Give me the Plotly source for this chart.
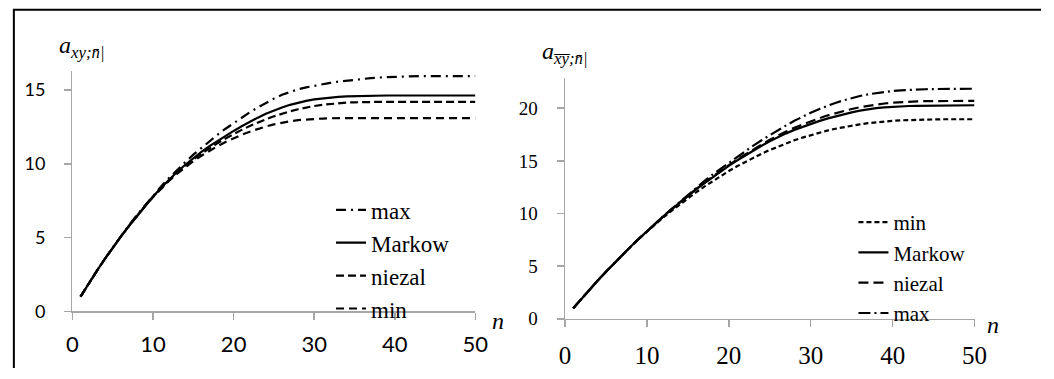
import plotly.graph_objects as go

n = list(range(1, 51))

# left panel  a_{xy;n|}
max_L = [1.00, 1.88, 2.73, 3.55, 4.34, 5.10, 5.83, 6.53, 7.20, 7.85,
         8.47, 9.05, 9.60, 10.12, 10.62, 11.09, 11.54, 11.97, 12.38, 12.77,
         13.14, 13.49, 13.82, 14.13, 14.42, 14.68, 14.89, 15.05, 15.18, 15.30,
         15.40, 15.49, 15.57, 15.64, 15.70, 15.76, 15.81, 15.85, 15.88, 15.91,
         15.93, 15.94, 15.95, 15.95, 15.95, 15.95, 15.95, 15.95, 15.95, 15.95]
markow_L = [1.00, 1.88, 2.73, 3.54, 4.32, 5.07, 5.79, 6.48, 7.14, 7.78,
            8.38, 8.94, 9.46, 9.94, 10.39, 10.81, 11.20, 11.56, 11.90, 12.23,
            12.55, 12.85, 13.13, 13.39, 13.62, 13.82, 14.00, 14.15, 14.27, 14.37,
            14.44, 14.50, 14.54, 14.57, 14.59, 14.61, 14.62, 14.63, 14.63, 14.63,
            14.63, 14.63, 14.63, 14.63, 14.63, 14.63, 14.63, 14.63, 14.63, 14.63]
niezal_L = [1.00, 1.88, 2.73, 3.54, 4.32, 5.07, 5.79, 6.48, 7.14, 7.77,
            8.36, 8.90, 9.40, 9.86, 10.29, 10.69, 11.06, 11.40, 11.72, 12.02,
            12.30, 12.56, 12.80, 13.02, 13.22, 13.40, 13.56, 13.70, 13.82, 13.92,
            14.00, 14.06, 14.11, 14.15, 14.17, 14.19, 14.20, 14.20, 14.20, 14.20,
            14.20, 14.20, 14.20, 14.20, 14.20, 14.20, 14.20, 14.20, 14.20, 14.20]
min_L = [1.00, 1.88, 2.73, 3.54, 4.32, 5.06, 5.78, 6.47, 7.12, 7.75,
         8.34, 8.86, 9.34, 9.78, 10.18, 10.55, 10.89, 11.20, 11.48, 11.74,
         11.97, 12.18, 12.37, 12.53, 12.67, 12.79, 12.89, 12.96, 13.01, 13.05,
         13.07, 13.09, 13.10, 13.10, 13.10, 13.10, 13.10, 13.10, 13.10, 13.10,
         13.10, 13.10, 13.10, 13.10, 13.10, 13.10, 13.10, 13.10, 13.10, 13.10]

# right panel  a_{xy(bar);n|}
min_R = [1.00, 1.90, 2.78, 3.64, 4.47, 5.28, 6.07, 6.84, 7.59, 8.28,
         8.96, 9.62, 10.25, 10.86, 11.45, 12.01, 12.55, 13.07, 13.56, 14.03,
         14.48, 14.90, 15.30, 15.68, 16.03, 16.36, 16.67, 16.95, 17.21, 17.45,
         17.67, 17.87, 18.05, 18.21, 18.35, 18.47, 18.58, 18.67, 18.74, 18.80,
         18.85, 18.88, 18.91, 18.93, 18.94, 18.95, 18.95, 18.95, 18.95, 18.95]
markow_R = [1.00, 1.90, 2.78, 3.64, 4.47, 5.28, 6.07, 6.84, 7.59, 8.32,
            9.03, 9.72, 10.39, 11.04, 11.67, 12.28, 12.87, 13.44, 13.99, 14.52,
            15.03, 15.52, 15.99, 16.44, 16.86, 17.25, 17.61, 17.94, 18.24, 18.51,
            18.77, 19.01, 19.23, 19.43, 19.61, 19.77, 19.90, 20.00, 20.08, 20.14,
            20.18, 20.21, 20.23, 20.24, 20.25, 20.26, 20.27, 20.27, 20.27, 20.28]
niezal_R = [1.00, 1.90, 2.78, 3.64, 4.47, 5.28, 6.07, 6.84, 7.59, 8.32,
            9.03, 9.72, 10.40, 11.06, 11.70, 12.32, 12.92, 13.50, 14.06, 14.60,
            15.12, 15.62, 16.10, 16.56, 17.00, 17.41, 17.79, 18.14, 18.46, 18.76,
            19.04, 19.30, 19.53, 19.74, 19.93, 20.09, 20.23, 20.35, 20.45, 20.52,
            20.58, 20.62, 20.65, 20.67, 20.68, 20.69, 20.69, 20.69, 20.69, 20.70]
max_R = [1.00, 1.90, 2.78, 3.64, 4.47, 5.28, 6.07, 6.84, 7.59, 8.33,
         9.04, 9.74, 10.42, 11.10, 11.77, 12.43, 13.07, 13.68, 14.25, 14.80,
         15.37, 15.92, 16.45, 16.96, 17.45, 17.92, 18.37, 18.80, 19.20, 19.57,
         19.91, 20.22, 20.50, 20.75, 20.97, 21.16, 21.32, 21.45, 21.56, 21.64,
         21.70, 21.75, 21.78, 21.80, 21.82, 21.83, 21.84, 21.85, 21.85, 21.85]

x_ticks = [0, 10, 20, 30, 40, 50]
y_ticks_L = [0, 5, 10, 15]
y_ticks_R = [0, 5, 10, 15, 20]

W, H = 1054, 379
def px(x): return x / W
def py(y): return 1 - y / H

AX = "#a6a6a6"
LW = 2.2
SERIF = "Liberation Serif, Times New Roman, serif"
SANS = "Lato, Carlito, Calibri, sans-serif"

fig = go.Figure()

left_series = [
    ("max", max_L, "10px,5px,2px,5px"),
    ("Markow", markow_L, "solid"),
    ("niezal", niezal_L, "8px,4px"),
    ("min", min_L, "8px,5px"),
]
for name, ys, dash in left_series:
    fig.add_trace(go.Scatter(x=n, y=ys, mode="lines", name=name,
                             line=dict(color="black", width=LW, dash=dash),
                             xaxis="x", yaxis="y", legend="legend"))

right_series = [
    ("min", min_R, "5px,3px"),
    ("Markow", markow_R, "solid"),
    ("niezal", niezal_R, "10px,5px"),
    ("max", max_R, "12px,4px,2px,4px"),
]
for name, ys, dash in right_series:
    fig.add_trace(go.Scatter(x=n, y=ys, mode="lines", name=name,
                             line=dict(color="black", width=LW, dash=dash),
                             xaxis="x2", yaxis="y2", legend="legend2"))

axis_common = dict(showgrid=False, zeroline=False, showline=True, linecolor=AX,
                   linewidth=1.5, ticks="outside", ticklen=7, tickcolor=AX,
                   tickwidth=1.5)

fig.update_layout(
    width=W, height=H,
    margin=dict(l=0, r=0, t=0, b=0),
    paper_bgcolor="white", plot_bgcolor="white",
    hovermode=False,
    xaxis=dict(domain=[px(67.7), px(478)], range=[0, 50], tickvals=x_ticks,
               anchor="y", ticklabelstandoff=6,
               tickfont=dict(family=SANS, size=22, color="black"),
               **axis_common),
    yaxis=dict(domain=[py(320.7), py(73)], range=[0, 16.3], tickvals=y_ticks_L,
               anchor="x", ticklabelstandoff=15,
               tickfont=dict(family=SANS, size=18, color="black"), **axis_common),
    xaxis2=dict(domain=[px(569.3), px(986.3)], range=[0, 50], tickvals=x_ticks,
                anchor="y2", ticklabelstandoff=7,
                tickfont=dict(family=SERIF, size=25, color="black"),
                **axis_common),
    yaxis2=dict(domain=[py(328.3), py(80)], range=[0, 22.9], tickvals=y_ticks_R,
                anchor="x2", ticklabelstandoff=15,
                tickfont=dict(family=SERIF, size=19, color="black"),
                **axis_common),
    legend=dict(x=px(331), y=py(194), xanchor="left", yanchor="top",
                bgcolor="rgba(0,0,0,0)", tracegroupgap=3,
                font=dict(family=SERIF, size=23, color="black")),
    legend2=dict(x=px(863), y=py(208), xanchor="left", yanchor="top",
                 bgcolor="rgba(0,0,0,0)", tracegroupgap=0,
                 font=dict(family=SERIF, size=21, color="black")),
    showlegend=True,
)

# outer frame (left and top edges)
fig.add_shape(type="path", xref="paper", yref="paper",
              path=f"M {px(8)} {py(379)} L {px(8)} {py(10)} L {px(1054)} {py(10)}",
              line=dict(color="black", width=2))

fig.add_annotation(xref="paper", yref="paper", x=px(52), y=py(48), xanchor="left",
                   yanchor="middle", showarrow=False,
                   text="<i>a<sub>xy;n\u0304|</sub></i>",
                   font=dict(family=SERIF, size=24, color="black"))
fig.add_annotation(xref="paper", yref="paper", x=px(544), y=py(55), xanchor="left",
                   yanchor="middle", showarrow=False,
                   text="<i>a<sub>x\u0305y\u0305;n\u0304|</sub></i>",
                   font=dict(family=SERIF, size=24, color="black"))
fig.add_annotation(xref="paper", yref="paper", x=px(501), y=py(331), showarrow=False,
                   xanchor="center", yanchor="middle",
                   text="<i>n</i>", font=dict(family=SERIF, size=24, color="black"))
fig.add_annotation(xref="paper", yref="paper", x=px(1005), y=py(335), showarrow=False,
                   xanchor="center", yanchor="middle",
                   text="<i>n</i>", font=dict(family=SERIF, size=24, color="black"))

fig.write_html("out.html",
               config={"displayModeBar": False, "staticPlot": True},
               post_script="document.body.style.margin='0';"
                           "document.body.style.overflow='hidden';")
